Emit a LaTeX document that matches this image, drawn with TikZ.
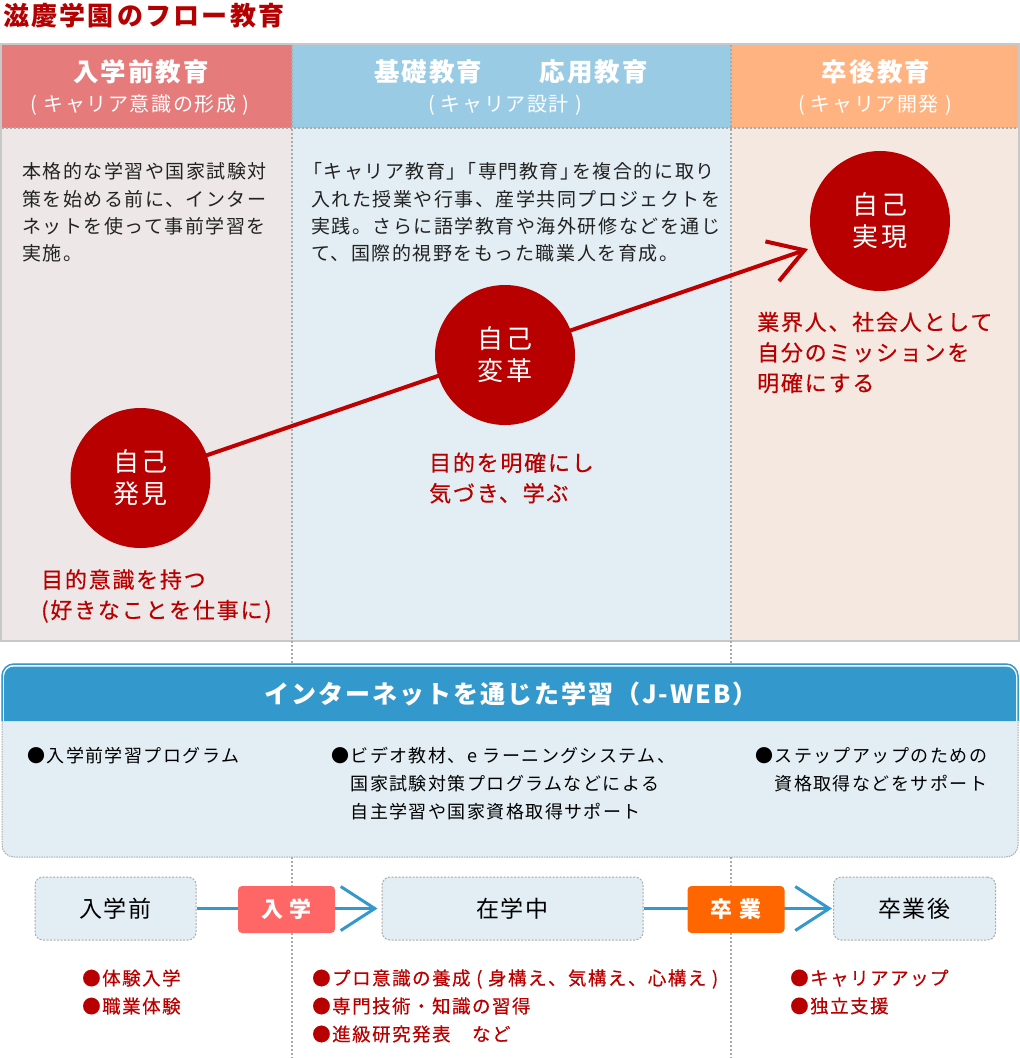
\documentclass[tikz,border=0pt]{standalone}
\usepackage{fontspec}
\setmainfont{Noto Sans CJK JP}[LetterSpace=8]
\newfontfamily\jpred{Noto Sans CJK JP}[LetterSpace=8, FakeBold=0.4]
\usetikzlibrary{arrows.meta}
\definecolor{titlered}{HTML}{B40000}
\definecolor{hdrA}{HTML}{E57B7B}
\definecolor{hdrB}{HTML}{99CCE4}
\definecolor{hdrC}{HTML}{FFB380}
\definecolor{bodyA}{HTML}{EDE7E7}
\definecolor{bodyB}{HTML}{E2EEF3}
\definecolor{bodyC}{HTML}{F5E8E1}
\definecolor{circred}{HTML}{B80000}
\definecolor{linered}{HTML}{C00000}
\definecolor{darkred}{HTML}{B80000}
\definecolor{frameg}{HTML}{C8C8C8}
\definecolor{dotg}{HTML}{AAAAAA}
\definecolor{webblue}{HTML}{3399CC}
\definecolor{gateA}{HTML}{FF6666}
\definecolor{gateB}{HTML}{FF6600}
\definecolor{txtblack}{HTML}{222222}
\newcommand\fsz[2]{\fontsize{#1}{#2}\selectfont}
\begin{document}
\begin{tikzpicture}[x=1pt,y=-1pt,
  hdrtitle/.style={text=white, font=\bfseries\fsz{25.5}{28}, inner sep=0},
  hdrsub/.style={text=white, font=\fsz{20}{24}, inner sep=0},
  bodytext/.style={anchor=west, align=left, inner sep=0, text=txtblack, font=\fsz{19}{27.2}},
  redtext/.style={anchor=west, align=left, inner sep=0, text=darkred, font=\jpred\fsz{22}{30.5}},
  circ/.style={circle, fill=circred, minimum size=140pt, inner sep=0, text=white, align=center, font=\fsz{26}{32}},
  webtext/.style={anchor=west, align=left, inner sep=0, text=black, font=\fsz{18}{28}},
  stagebox/.style={rounded corners=8pt, fill=bodyB, draw=dotg, dash pattern=on 2pt off 1.5pt, line width=1pt, minimum height=63pt, inner sep=0, font=\fsz{23}{26}, text=black},
  gatebox/.style={rounded corners=4pt, text=white, font=\bfseries\fsz{22}{26}, minimum width=97pt, minimum height=47pt, inner sep=0},
  redbullet/.style={anchor=west, align=left, inner sep=0, text=darkred, font=\jpred\fsz{18.5}{28}},
  dotline/.style={draw=dotg, line width=1.5pt, dash pattern=on 2pt off 2pt},
  flowline/.style={draw=webblue, line width=3pt, -{Straight Barb[length=34pt,width=44pt]}},
  redline/.style={draw=linered, line width=4pt, -{Straight Barb[length=34pt,width=42pt]}}
]
\useasboundingbox (0,0) rectangle (1020,1058);
% title
\node[anchor=west, inner sep=0, text=titlered, font=\bfseries\fsz{26}{28}] (title) at (3,16) {滋慶学園\,のフロー教育};
% frame and column fills
\fill[hdrA] (2,45) rectangle (292,128);
\fill[hdrB] (292,45) rectangle (731,128);
\fill[hdrC] (731,45) rectangle (1018,128);
\fill[bodyA] (2,128) rectangle (292,640);
\fill[bodyB] (292,128) rectangle (731,640);
\fill[bodyC] (731,128) rectangle (1018,640);
\draw[frameg, line width=2pt] (1,44) rectangle (1019,641);
\draw[dotline] (2,128) -- (1018,128);
\draw[dotline] (292,45) -- (292,1058);
\draw[dotline] (731,45) -- (731,1058);
% headers
\node[hdrtitle] (h1) at (141,72) {入学前教育};
\node[hdrsub] (s1) at (140,105) {( キャリア意識の形成 )};
\node[hdrtitle] (h2) at (511,72) {基礎教育　　応用教育};
\node[hdrsub] (s2) at (505,105) {( キャリア設計 )};
\node[hdrtitle] (h3) at (876,72) {卒後教育};
\node[hdrsub] (s3) at (875,105) {( キャリア開発 )};
% body texts
\node[bodytext] (b1) at (22,212.5) {本格的な学習や国家試験対\\策を始める前に、インター\\ネットを使って事前学習を\\実施。};
\node[bodytext] (b2) at (303,212.5) {「キャリア教育」\hspace*{-8pt}「専門教育」\hspace*{-7pt}を複合的に取り\\\hspace*{8pt}入れた授業や行事、産学共同プロジェクトを\\\hspace*{8pt}実践。さらに語学教育や海外研修などを通じ\\\hspace*{8pt}て、国際的視野をもった職業人を育成。};
% arrow behind circles
\coordinate (c1c) at (140.5,478);
\coordinate (tip) at (808,249);
\draw[redline] (c1c) -- (tip);
% circles
\node[circ] (c1) at (140.5,478) {自己\\発見};
\node[circ] (c2) at (505,355) {自己\\変革};
\node[circ] (c3) at (880,221) {自己\\実現};
% red texts
\node[redtext] (r1) at (41,596) {目的意識を持つ\\(好きなことを仕事に)};
\node[redtext] (r2) at (429,478) {目的を明確にし\\気づき、学ぶ};
\node[redtext] (r3) at (757,352.5) {業界人、社会人として\\自分のミッションを\\明確にする};
% J-WEB box
\fill[bodyB, rounded corners=12pt] (2,664) rectangle (1018,857);
\draw[dotg, line width=1pt, dash pattern=on 1.5pt off 1pt, rounded corners=12pt] (2,664) rectangle (1018,857);
\fill[white] (2,664) [rounded corners=12pt] -- (2,664) -- (1018,664) [sharp corners] -- (1018,721) -- (2,721) -- cycle;
\draw[webblue, line width=1.5pt] (2,721) [rounded corners=12pt] -- (2,664) -- (1018,664) [sharp corners] -- (1018,721);
\fill[webblue] (4,721) [rounded corners=10pt] -- (4,666.5) -- (1016,666.5) [sharp corners] -- (1016,721) -- cycle;
\node[text=white, font=\bfseries\fsz{25}{28}, inner sep=0] (webtitle) at (511,694) {インターネットを通じた学習（J-WEB）};
\node[webtext] (w1) at (27,756) {●入学前学習プログラム};
\node[webtext] (w2) at (331,784) {●ビデオ教材、e ラーニングシステム、\\　国家試験対策プログラムなどによる\\　自主学習や国家資格取得サポート};
\node[webtext] (w3) at (755,770) {●ステップアップのための\\　資格取得などをサポート};
% bottom flow
\node[stagebox, minimum width=161pt] (pre) at (115.5,908.5) {入学前};
\node[stagebox, minimum width=261pt] (mid) at (512.5,908.5) {在学中};
\node[stagebox, minimum width=162pt] (post) at (914.5,908.5) {卒業後};
\draw[flowline] (pre.east) -- ([xshift=-4pt]mid.west);
\draw[flowline] (mid.east) -- ([xshift=-1pt]post.west);
\node[gatebox, fill=gateA] (enter) at (286.5,909.5) {入 学};
\node[gatebox, fill=gateB] (grad) at (736,909.5) {卒 業};
% bottom red bullets
\node[redbullet] (p1) at (82,992) {●体験入学\\●職業体験};
\node[redbullet] (p2) at (312,1006) {●プロ意識の養成 ( 身構え、気構え、心構え )\\●専門技術・知識の習得\\●進級研究発表　など};
\node[redbullet] (p3) at (790,992) {●キャリアアップ\\●独立支援};
\end{tikzpicture}
\end{document}
